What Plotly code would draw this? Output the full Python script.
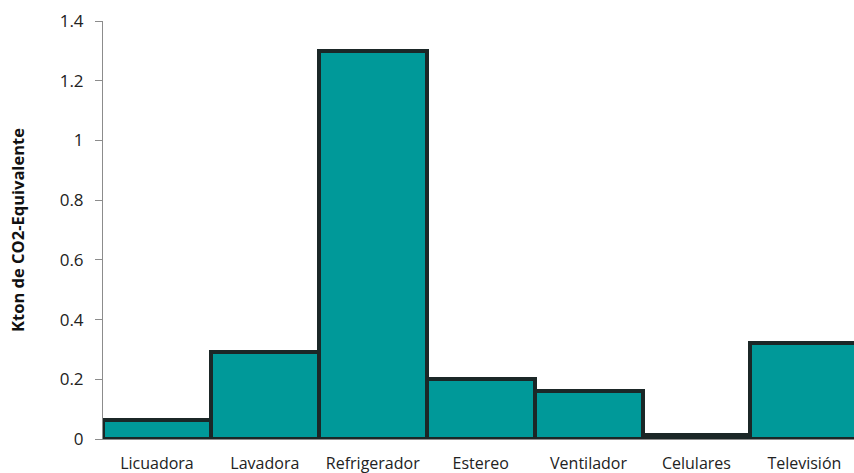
import plotly.graph_objects as go

# Emisiones por electrodoméstico (Kton de CO2-Equivalente)
categorias = ["Licuadora", "Lavadora", "Refrigerador", "Estereo",
              "Ventilador", "Celulares", "Televisión"]
valores = [0.065, 0.29, 1.3, 0.2, 0.16, 0.012, 0.32]

ticks_y = [0, 0.2, 0.4, 0.6, 0.8, 1.0, 1.2, 1.4]
etiquetas_y = ["0", "0.2", "0.4", "0.6", "0.8", "1", "1.2", "1.4"]

fig = go.Figure(
    go.Bar(
        x=categorias,
        y=valores,
        marker=dict(color="#009999", line=dict(color="#1b2727", width=4)),
    )
)

fig.update_layout(
    width=854,
    height=473,
    margin=dict(l=103, r=0, t=21, b=34),
    paper_bgcolor="white",
    plot_bgcolor="white",
    bargap=0,
    showlegend=False,
    font=dict(family="Open Sans, Liberation Sans, sans-serif", color="#222222"),
)

fig.update_xaxes(
    range=[-0.5, 6.46],
    showline=True,
    linecolor="#8c8c8c",
    linewidth=1,
    showgrid=False,
    ticks="",
    tickfont=dict(size=16, color="#222222"),
    ticklabelstandoff=10,
)

fig.update_yaxes(
    range=[0, 1.4],
    tickvals=ticks_y,
    ticktext=etiquetas_y,
    showline=True,
    linecolor="#8c8c8c",
    linewidth=1,
    showgrid=False,
    zeroline=False,
    ticks="outside",
    ticklen=7,
    tickcolor="#8c8c8c",
    tickfont=dict(size=17, color="#222222"),
    ticklabelstandoff=8,
    title=dict(
        text="<b>Kton de CO2-Equivalente</b>",
        font=dict(size=16.5, color="#111111"),
        standoff=30,
    ),
)

fig.write_html("out.html")
